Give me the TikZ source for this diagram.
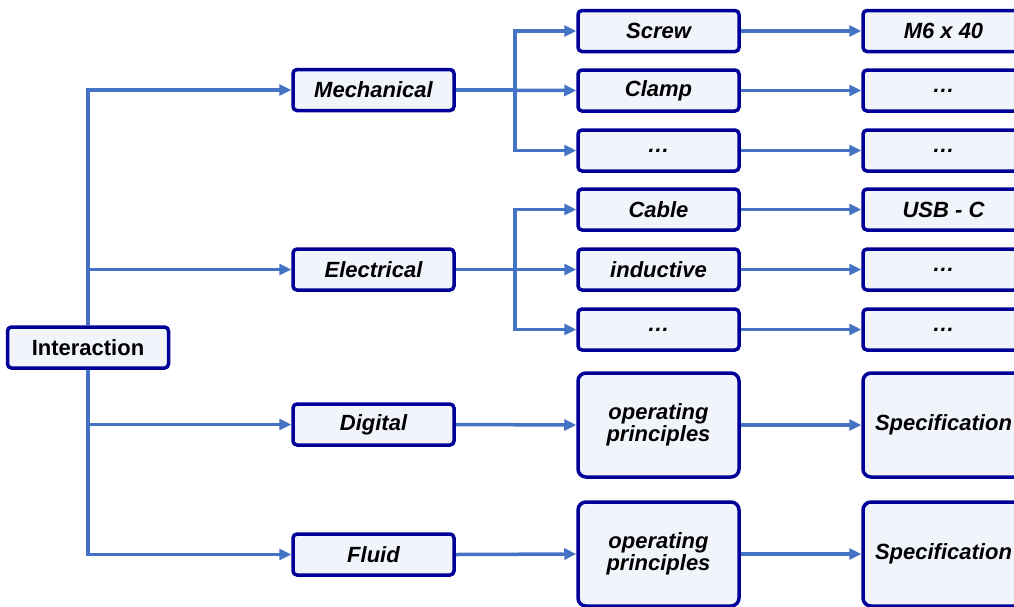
\documentclass[tikz,border=0pt]{standalone}
\usepackage{fontspec}
\setmainfont{Liberation Sans}
\usetikzlibrary{arrows.meta}
\definecolor{navy}{HTML}{000099}
\definecolor{boxfill}{HTML}{F1F4FA}
\definecolor{link}{HTML}{4472C4}
\tikzset{
  box/.style={draw=navy, line width=3.5pt, fill=boxfill, rounded corners=4pt,
    minimum width=161pt, minimum height=41pt, inner sep=0pt, align=center,
    font=\bfseries\itshape\fontsize{22}{22}\selectfont},
  bigbox/.style={box, minimum height=104pt, rounded corners=8pt},
  conn/.style={draw=link, line width=3.5pt},
  arr/.style={conn, -{Triangle[length=12pt,width=11pt]}}
}
\begin{document}
\begin{tikzpicture}[x=1pt,y=-1pt]
\useasboundingbox (0,0) rectangle (1014,606);
\clip (0,0) rectangle (1014,606);
% level 0
\node[box, font=\bfseries\fontsize{22}{22}\selectfont] (inter) at (88,347.5) {Interaction};
% level 1
\node[box] (mech) at (373.5,90) {Mechanical};
\node[box] (elec) at (373.5,269.5) {Electrical};
\node[box] (dig) at (373.5,424.5) {Digital};
\node[box] (flu) at (373.5,554.5) {Fluid};
% level 2
\node[box] (screw) at (658.5,31) {Screw};
\node[box] (clamp) at (658.5,90.5) {Clamp};
\node[box] (mdots) at (658.5,150.5) {\dots};
\node[box] (cable) at (658.5,209.5) {Cable};
\node[box] (induc) at (658.5,269.5) {inductive};
\node[box] (edots) at (658.5,329.5) {\dots};
\node[bigbox] (opd) at (658.5,425) {operating\\principles};
\node[bigbox] (opf) at (658.5,554) {operating\\principles};
% level 3
\node[box] (m6) at (943.5,31) {M6 x 40};
\node[box] (cdots) at (943.5,90.5) {\dots};
\node[box] (mddots) at (943.5,150.5) {\dots};
\node[box] (usb) at (943.5,209.5) {USB - C};
\node[box] (idots) at (943.5,269.5) {\dots};
\node[box] (eddots) at (943.5,329.5) {\dots};
\node[bigbox] (specd) at (943.5,425) {Specification};
\node[bigbox] (specf) at (943.5,554) {Specification};
% trunk
\draw[arr] (inter.north) |- (mech.west);
\draw[arr] (inter.north) |- (elec.west);
\draw[arr] (inter.south) |- (dig.west);
\draw[arr] (inter.south) |- (flu.west);
% mechanical branch
\coordinate (mj) at (515,90);
\draw[arr] (mech.east) -- (mj) |- (screw.west);
\draw[arr] (mech.east) -- (clamp.west);
\draw[arr] (mj) |- (mdots.west);
% electrical branch
\coordinate (ej) at (515,269.5);
\draw[arr] (elec.east) -- (ej) |- (cable.west);
\draw[arr] (elec.east) -- (induc.west);
\draw[arr] (ej) |- (edots.west);
% direct links
\draw[arr] (dig.east) -- (opd.west);
\draw[arr] (flu.east) -- (opf.west);
\draw[arr] (screw.east) -- (m6.west);
\draw[arr] (clamp.east) -- (cdots.west);
\draw[arr] (mdots.east) -- (mddots.west);
\draw[arr] (cable.east) -- (usb.west);
\draw[arr] (induc.east) -- (idots.west);
\draw[arr] (edots.east) -- (eddots.west);
\draw[arr] (opd.east) -- (specd.west);
\draw[arr] (opf.east) -- (specf.west);
\end{tikzpicture}
\end{document}
